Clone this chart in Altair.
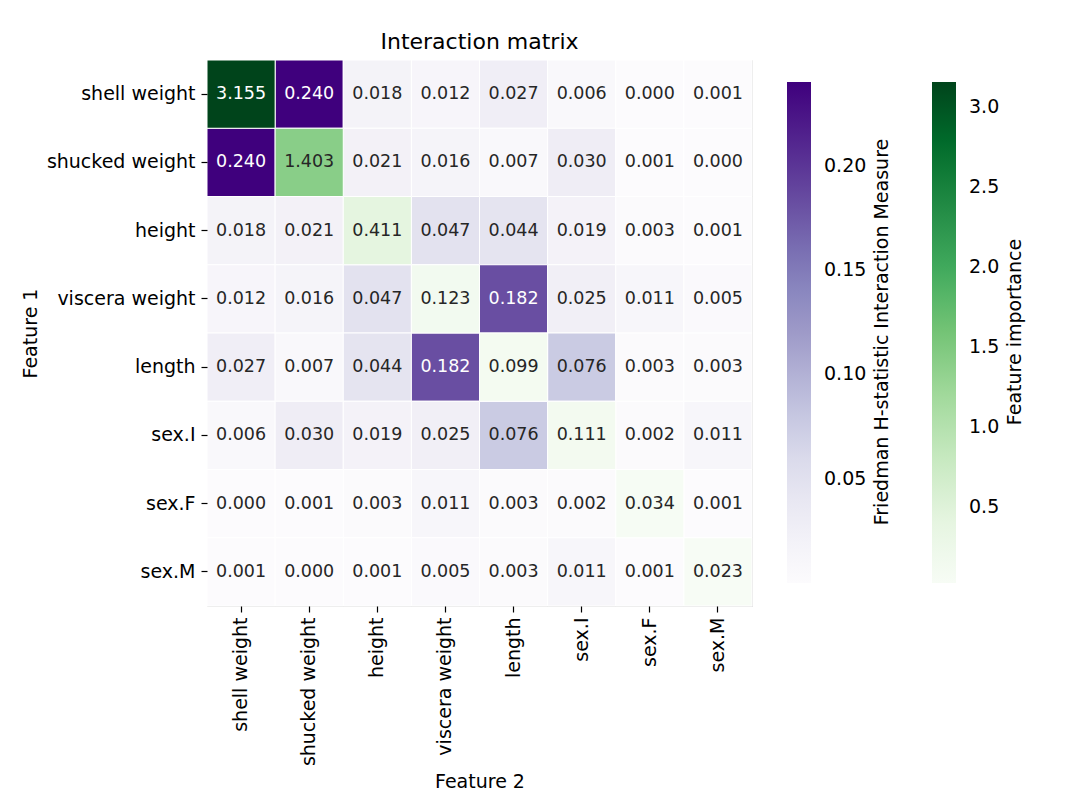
import altair as alt
import pandas as pd

features = ["shell weight", "shucked weight", "height", "viscera weight",
            "length", "sex.I", "sex.F", "sex.M"]

row_shell_weight = [3.155, 0.240, 0.018, 0.012, 0.027, 0.006, 0.000, 0.001]
row_shucked_weight = [0.240, 1.403, 0.021, 0.016, 0.007, 0.030, 0.001, 0.000]
row_height = [0.018, 0.021, 0.411, 0.047, 0.044, 0.019, 0.003, 0.001]
row_viscera_weight = [0.012, 0.016, 0.047, 0.123, 0.182, 0.025, 0.011, 0.005]
row_length = [0.027, 0.007, 0.044, 0.182, 0.099, 0.076, 0.003, 0.003]
row_sex_I = [0.006, 0.030, 0.019, 0.025, 0.076, 0.111, 0.002, 0.011]
row_sex_F = [0.000, 0.001, 0.003, 0.011, 0.003, 0.002, 0.034, 0.001]
row_sex_M = [0.001, 0.000, 0.001, 0.005, 0.003, 0.011, 0.001, 0.023]

matrix = [row_shell_weight, row_shucked_weight, row_height, row_viscera_weight,
          row_length, row_sex_I, row_sex_F, row_sex_M]

purple_ticks = [0.05, 0.10, 0.15, 0.20]
green_ticks = [0.5, 1.0, 1.5, 2.0, 2.5, 3.0]

PURPLES = ["#fcfbfd", "#efedf5", "#dadaeb", "#bcbddc", "#9e9ac8",
           "#807dba", "#6a51a3", "#54278f", "#3f007d"]
GREENS = ["#f7fcf5", "#e5f5e0", "#c7e9c0", "#a1d99b", "#74c476",
          "#41ab5d", "#238b45", "#006d2c", "#00441b"]

FONT = "DejaVu Sans"
FS = 19

records = []
for i, f1 in enumerate(features):
    for j, f2 in enumerate(features):
        v = matrix[i][j]
        diag = i == j
        dark = (v > 2.0) if diag else (v > 0.13)
        records.append({"f1": f1, "f2": f2, "value": v, "diag": diag,
                        "dark": dark, "label": f"{v:.3f}"})
df = pd.DataFrame(records)

diag_vals = [matrix[k][k] for k in range(len(features))]
off_vals = [matrix[i][j] for i in range(len(features)) for j in range(len(features)) if i != j]


def stops(lo, hi, n):
    return [lo + k * (hi - lo) / (n - 1) for k in range(n)]


x = alt.X("f2:N", sort=features, title="Feature 2",
          scale=alt.Scale(paddingInner=0, paddingOuter=0),
          axis=alt.Axis(labelAngle=270, labelFont=FONT, labelFontSize=FS,
                        labelColor="black", titleFont=FONT, titleFontSize=FS,
                        titleFontWeight="normal", titleColor="black",
                        tickSize=6, tickColor="black", tickWidth=1.2,
                        labelPadding=5, titlePadding=7, domain=False, grid=False))
y = alt.Y("f1:N", sort=features, title="Feature 1",
          scale=alt.Scale(paddingInner=0, paddingOuter=0),
          axis=alt.Axis(labelFont=FONT, labelFontSize=FS, labelColor="black",
                        titleFont=FONT, titleFontSize=FS, titleFontWeight="normal",
                        titleColor="black", tickSize=6, tickColor="black",
                        tickWidth=1.2, labelPadding=6, titlePadding=6,
                        domain=False, grid=False))

base = alt.Chart(df).encode(x=x, y=y)

off = base.transform_filter("!datum.diag").mark_rect(
    stroke="white", strokeWidth=1, opacity=1).encode(
    color=alt.Color("value:Q",
                    scale=alt.Scale(domain=stops(0.0, max(off_vals), len(PURPLES)),
                                    range=PURPLES, interpolate="rgb"),
                    legend=alt.Legend(orient="none", legendX=580, legendY=22,
                                      title=None, direction="vertical",
                                      gradientLength=501, gradientThickness=24,
                                      gradientStrokeWidth=0,
                                      values=purple_ticks,
                                      format=".2f", labelFont=FONT,
                                      labelFontSize=FS, labelColor="black",
                                      labelOffset=13, labelOverlap=False,
                                      padding=0)))

dg = base.transform_filter("datum.diag").mark_rect(
    stroke="white", strokeWidth=1, opacity=1).encode(
    color=alt.Color("value:Q",
                    scale=alt.Scale(domain=stops(min(diag_vals), max(diag_vals), len(GREENS)),
                                    range=GREENS, interpolate="rgb"),
                    legend=alt.Legend(orient="none", legendX=725, legendY=22,
                                      title=None, direction="vertical",
                                      gradientLength=501, gradientThickness=24,
                                      gradientStrokeWidth=0,
                                      values=green_ticks,
                                      format=".1f", labelFont=FONT,
                                      labelFontSize=FS, labelColor="black",
                                      labelOffset=13, labelOverlap=False,
                                      padding=0)))

txt = base.mark_text(font=FONT, fontSize=17.5, align="center", baseline="middle").encode(
    text="label:N",
    color=alt.condition("datum.dark", alt.value("white"), alt.value("#262626")))

t1 = alt.Chart(pd.DataFrame({"t": ["Friedman H-statistic Interaction Measure"]})).mark_text(
    font=FONT, fontSize=FS, angle=270, align="center", baseline="middle", color="black"
).encode(text="t:N", x=alt.value(675), y=alt.value(272))

t2 = alt.Chart(pd.DataFrame({"t": ["Feature importance"]})).mark_text(
    font=FONT, fontSize=FS, angle=270, align="center", baseline="middle", color="black"
).encode(text="t:N", x=alt.value(808), y=alt.value(272))

chart = alt.layer(off, dg, txt, t1, t2).resolve_scale(color="independent").properties(
    width=545, height=546,
    title=alt.TitleParams("Interaction matrix", font=FONT, fontSize=22,
                          fontWeight="normal", color="black", anchor="middle",
                          offset=6),
    autosize=alt.AutoSizeParams(type="none"),
    padding={"left": 199, "top": 52, "right": 312, "bottom": 190},
).configure_view(stroke=None).configure(background="white")

chart.save("out.html", embed_options={"renderer": "svg", "actions": False})
